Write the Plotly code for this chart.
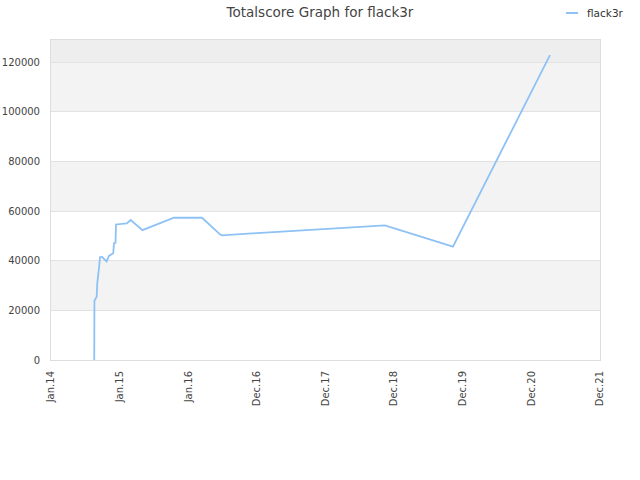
import plotly.graph_objects as go

dates = ["2014-08-19", "2014-08-20", "2014-09-01", "2014-09-04", "2014-09-12", "2014-09-19",
         "2014-09-28", "2014-10-24", "2014-11-05", "2014-11-20", "2014-11-28", "2014-12-02",
         "2014-12-10", "2014-12-13", "2015-02-08", "2015-03-01", "2015-05-02", "2015-10-17",
         "2016-03-14", "2016-06-18", "2016-06-28", "2017-01-01", "2018-11-12", "2019-11-09",
         "2021-04-08"]
scores = [0, 23900, 25500, 30900, 36200, 41400,
          41600, 39700, 41900, 42700, 43000, 47000,
          47200, 54600, 55000, 56400, 52300, 57300,
          57300, 50600, 50200, 51100, 54200, 45700,
          122800]

tick_dates = ["2014-01-01", "2015-01-01", "2016-01-01", "2016-12-31", "2017-12-31",
              "2018-12-31", "2019-12-31", "2020-12-30", "2021-12-30"]
tick_labels = ["Jan.14", "Jan.15", "Jan.16", "Dec.16", "Dec.17", "Dec.18", "Dec.19", "Dec.20", "Dec.21"]
y_ticks = [0, 20000, 40000, 60000, 80000, 100000, 120000]

series_name = "flack3r"
y_max = 128900
line_color = "#8ec2f5"

W, H = 640, 480
L, T, R, B = 51, 40, 40, 120
pw, ph = W - L - R, H - T - B

def px_x(x):
    return (x - L) / pw

def px_y(y):
    return (H - B - y) / ph

fig = go.Figure()
fig.add_trace(go.Scatter(x=dates, y=scores, mode="lines", name=series_name,
                         line=dict(color=line_color, width=1.8), showlegend=False))

shapes = []
bands = [(20000, 40000), (60000, 80000), (100000, 120000)]
for y0, y1 in bands:
    shapes.append(dict(type="rect", xref="paper", yref="y", x0=0, x1=1, y0=y0, y1=y1,
                       fillcolor="#f3f3f3", line_width=0, layer="below"))
shapes.append(dict(type="rect", xref="paper", yref="y", x0=0, x1=1, y0=120000, y1=y_max,
                   fillcolor="#eeeeee", line_width=0, layer="below"))
shapes.append(dict(type="line", xref="paper", yref="paper", x0=px_x(566), x1=px_x(578),
                   y0=px_y(13), y1=px_y(13), line=dict(color=line_color, width=2)))

fig.update_layout(
    width=W, height=H,
    margin=dict(l=L, r=R, t=T, b=B, autoexpand=False),
    paper_bgcolor="white", plot_bgcolor="white",
    font=dict(family="DejaVu Sans", size=10, color="#444444"),
    title=dict(text="Totalscore Graph for flack3r", x=0.5, xanchor="center",
               y=1 - 12.5 / H, yanchor="middle",
               font=dict(size=13.5, color="#444444")),
    showlegend=False,
    shapes=shapes,
    annotations=[dict(text=series_name, xref="paper", yref="paper", x=px_x(585), y=px_y(13),
                      xanchor="left", yanchor="middle", showarrow=False,
                      font=dict(size=10.5, color="#333333"))],
    xaxis=dict(type="date", range=[tick_dates[0], tick_dates[-1]], tickmode="array",
               tickvals=tick_dates, ticktext=tick_labels, tickangle=-90, showgrid=False,
               showline=True, linecolor="#dddddd", mirror=True, zeroline=False,
               ticks="", ticklabelstandoff=6, automargin=False,
               tickfont=dict(size=10, color="#444444")),
    yaxis=dict(range=[0, y_max], tickmode="array", tickvals=y_ticks,
               ticktext=[str(v) for v in y_ticks], showgrid=True, gridcolor="#e2e2e2",
               showline=True, linecolor="#dddddd", mirror=True, zeroline=False,
               ticks="", ticklabelstandoff=8, automargin=False,
               tickfont=dict(size=10, color="#444444")),
)

fig.write_html("out.html", config={"displayModeBar": False},
               post_script="document.body.style.margin='0';")
